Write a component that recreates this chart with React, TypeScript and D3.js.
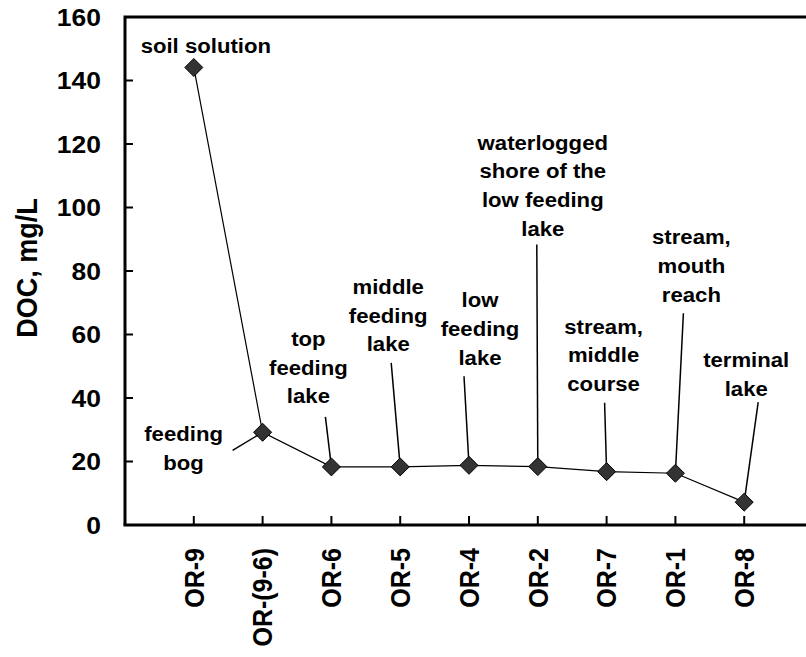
import React from "react";
import * as d3 from "d3";

const categories = ["OR-9", "OR-(9-6)", "OR-6", "OR-5", "OR-4", "OR-2", "OR-7", "OR-1", "OR-8"];
const docValues = [144.1, 29.2, 18.3, 18.3, 18.8, 18.4, 16.8, 16.3, 7.2];
const yTicks = [0, 20, 40, 60, 80, 100, 120, 140, 160];
const annotationLines = [
  ["soil solution"],
  ["feeding", "bog"],
  ["top", "feeding", "lake"],
  ["middle", "feeding", "lake"],
  ["low", "feeding", "lake"],
  ["waterlogged", "shore of the", "low feeding", "lake"],
  ["stream,", "middle", "course"],
  ["stream,", "mouth", "reach"],
  ["terminal", "lake"],
];

// layout offsets (pixels, relative to each point): label centre x, first baseline y, leader start
const labelLayout = [
  { dx: 12, dy: -14, lead: null },
  { dx: -79, dy: 9, lead: [-30, 18] },
  { dx: -23, dy: -121, lead: [-6, -50] },
  { dx: -12, dy: -173, lead: [-9, -104] },
  { dx: 11, dy: -158, lead: [-5, -89] },
  { dx: 5, dy: -317, lead: [-1, -222] },
  { dx: -3, dy: -138, lead: [-2, -69] },
  { dx: 16, dy: -229, lead: [8, -160] },
  { dx: 2, dy: -135, lead: [14, -100] },
];

const W = 806;
const H = 657;
const LEFT = 125;
const TOP = 17;
const BOTTOM = 525;
const STEP = 68.8;
const SX = 1.08;
const FONT = "'Liberation Sans', Arial, Helvetica, sans-serif";
const LINE_H = 28.7;

export default function App() {
  const x = d3.scaleLinear().domain([0, 10]).range([LEFT, LEFT + 10 * STEP]);
  const y = d3.scaleLinear().domain([0, 160]).range([BOTTOM, TOP]);
  const px = (i: number) => x(i + 1);
  const line = d3
    .line<number>()
    .x((_, i) => px(i))
    .y((d) => y(d));

  const diamond = (cx: number, cy: number, r: number) =>
    `M${cx},${cy - r}L${cx + r},${cy}L${cx},${cy + r}L${cx - r},${cy}Z`;

  const txt = (
    key: string,
    tx: number,
    ty: number,
    s: string,
    size: number,
    anchor: string,
    rot = false,
    dy = "0"
  ) => (
    <text
      key={key}
      transform={`translate(${tx},${ty}) scale(${SX},1)${rot ? " rotate(-90)" : ""}`}
      textAnchor={anchor}
      dy={dy}
      fontFamily={FONT}
      fontWeight="bold"
      fontSize={size}
      fill="#000"
    >
      {s}
    </text>
  );

  return (
    <svg
      width={W}
      height={H}
      style={{ position: "absolute", left: 0, top: 0, background: "#fff" }}
    >
      <rect x={0} y={0} width={W} height={H} fill="#fff" />
      {/* frame */}
      <path
        d={`M${LEFT},${BOTTOM}L${LEFT},${TOP}L${W + 10},${TOP}`}
        fill="none"
        stroke="#000"
        strokeWidth={3}
      />
      <line x1={LEFT - 1.5} x2={W + 10} y1={BOTTOM} y2={BOTTOM} stroke="#000" strokeWidth={3} />
      {/* y ticks */}
      {yTicks.map((t) => (
        <g key={"yt" + t}>
          {t > 0 && t < 160 && (
            <line x1={LEFT} x2={LEFT + 8} y1={y(t)} y2={y(t)} stroke="#000" strokeWidth={2} />
          )}
          {txt("yl" + t, 101 / SX * SX, y(t), String(t), 24.5, "end", false, "0.36em")}
        </g>
      ))}
      {/* x ticks */}
      {categories.map((c, i) => (
        <g key={"xt" + c}>
          <line x1={px(i)} x2={px(i)} y1={BOTTOM} y2={BOTTOM - 9} stroke="#000" strokeWidth={2} />
          {txt("xl" + c, px(i), 548, c, 25, "end", true, "0.36em")}
        </g>
      ))}
      {/* y axis title */}
      {txt("ytitle", 26, 268, "DOC, mg/L", 27, "middle", true, "0.36em")}
      {/* leader lines */}
      {labelLayout.map((l, i) =>
        l.lead ? (
          <line
            key={"ld" + i}
            x1={px(i) + l.lead[0]}
            y1={y(docValues[i]) + l.lead[1]}
            x2={px(i)}
            y2={y(docValues[i])}
            stroke="#000"
            strokeWidth={1.5}
          />
        ) : null
      )}
      {/* data line */}
      <path d={line(docValues) || ""} fill="none" stroke="#000" strokeWidth={1.2} />
      {docValues.map((v, i) => (
        <path
          key={"pt" + i}
          d={diamond(px(i), y(v), 9)}
          fill="#333333"
          stroke="#000"
          strokeWidth={1}
        />
      ))}
      {/* annotation labels */}
      {annotationLines.map((lines, i) =>
        lines.map((s, j) =>
          txt(
            "an" + i + "_" + j,
            px(i) + labelLayout[i].dx,
            y(docValues[i]) + labelLayout[i].dy + j * LINE_H,
            s,
            20.5,
            "middle"
          )
        )
      )}
    </svg>
  );
}
